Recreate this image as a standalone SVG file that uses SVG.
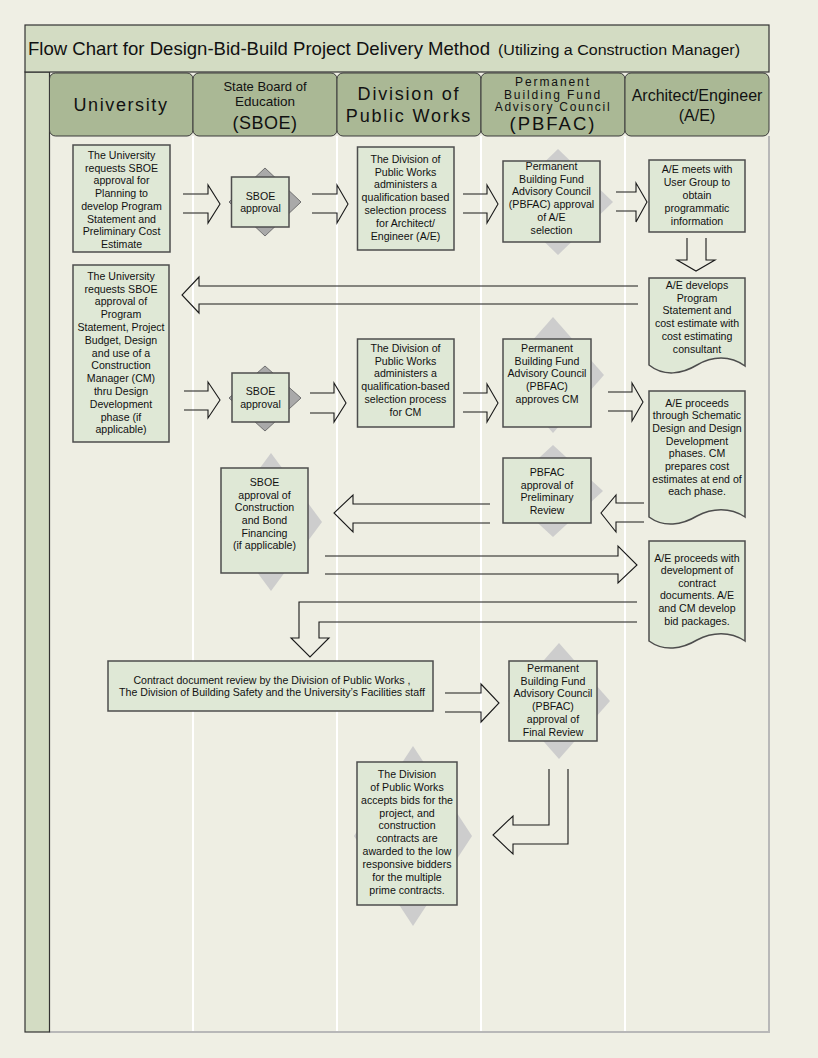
<svg xmlns="http://www.w3.org/2000/svg" width="818" height="1058" viewBox="0 0 818 1058">
<style>
.t{font-family:"Liberation Sans",Arial,sans-serif;font-size:10.6px;fill:#111;text-anchor:middle}
.h{font-family:"Liberation Sans",Arial,sans-serif;fill:#111;text-anchor:middle}
.box{fill:#dfe8d6;stroke:#4d4d4d;stroke-width:1.5}
.dl{fill:#cdcdcd}
.dd{fill:#a9a9a9;stroke:#707070;stroke-width:1}
.hd{fill:#aab895;stroke:#3a3a3a;stroke-width:1}
.ar{fill:none;stroke:#1a1a1a;stroke-width:1.1;stroke-linejoin:miter}
.sep{stroke:#ffffff;stroke-width:2}
</style>
<rect x="0" y="0" width="818" height="1058" fill="#efefe4"/>
<g id="frame">
<rect x="49.5" y="136" width="719.5" height="896" fill="#eeeee3"/>
<line class="sep" x1="193" y1="136" x2="193" y2="1032"/>
<line class="sep" x1="337" y1="136" x2="337" y2="1032"/>
<line class="sep" x1="481" y1="136" x2="481" y2="1032"/>
<line class="sep" x1="625" y1="136" x2="625" y2="1032"/>
<line x1="769" y1="136" x2="769" y2="1033" stroke="#b8b8b8" stroke-width="2"/>
<line x1="49.5" y1="1032" x2="769" y2="1032" stroke="#b8b8b8" stroke-width="2"/>
<rect x="25" y="72" width="24.5" height="960" fill="#d3dcc3" stroke="#333" stroke-width="1.2"/>
<rect x="25" y="25" width="744" height="47" fill="#d3dcc3" stroke="#333" stroke-width="1.2"/>
<text x="28" y="55" font-family="'Liberation Sans',Arial,sans-serif" fill="#111"><tspan font-size="18.5" textLength="462" lengthAdjust="spacingAndGlyphs">Flow Chart for Design-Bid-Build Project Delivery Method</tspan><tspan x="498" font-size="15.5" textLength="242" lengthAdjust="spacingAndGlyphs">(Utilizing a Construction Manager)</tspan></text>
</g>
<g id="lane-university"><rect class="hd" x="49.5" y="73" width="143.5" height="63" rx="6"/><text class="h" x="121" y="111" font-size="18" letter-spacing="1.6">University</text></g>
<g id="lane-sboe"><rect class="hd" x="193" y="73" width="144" height="63" rx="6"/><text class="h" x="265" y="91" font-size="13">State Board of</text><text class="h" x="265" y="106" font-size="13.5">Education</text><text class="h" x="265" y="129" font-size="18" letter-spacing="0.5">(SBOE)</text></g>
<g id="lane-dpw"><rect class="hd" x="337" y="73" width="144" height="63" rx="6"/><text class="h" x="409" y="99.5" font-size="18" letter-spacing="1.8">Division of</text><text class="h" x="409" y="122" font-size="18" letter-spacing="1.8">Public Works</text></g>
<g id="lane-pbfac"><rect class="hd" x="481" y="73" width="144" height="63" rx="6"/><text class="h" x="553" y="86" font-size="12" letter-spacing="1.9">Permanent</text><text class="h" x="553" y="98.5" font-size="12" letter-spacing="1.9">Building Fund</text><text class="h" x="553" y="111" font-size="12" letter-spacing="1.7">Advisory Council</text><text class="h" x="553" y="130" font-size="18.5" letter-spacing="2">(PBFAC)</text></g>
<g id="lane-ae"><rect class="hd" x="625" y="73" width="144" height="63" rx="6"/><text class="h" x="697" y="101" font-size="16">Architect/Engineer</text><text class="h" x="697" y="121" font-size="16">(A/E)</text></g>

<g id="connectors">
<path class="ar" d="M183,194 H208 V185 L220,204 L208,223 V213 H183"/>
<path class="ar" d="M312,194 H337 V185 L348,204 L337,223 V213 H312"/>
<path class="ar" d="M463,194 H487 V185 L498,204 L487,223 V213 H463"/>
<path class="ar" d="M616,192 H636 V183 L647,202 L636,222 V211 H616"/>
<path class="ar" d="M687,238 V260 H677 L696,271 L715,260 H706 V238"/>
<path class="ar" d="M638,286 H199 V277 L182,295 L199,313 V304 H638"/>
<path class="ar" d="M184,391 H208 V382 L220,400 L208,418 V410 H184"/>
<path class="ar" d="M310,393 H334 V383 L346,403 L334,422 V413 H310"/>
<path class="ar" d="M463,393 H487 V384 L498,403 L487,422 V412 H463"/>
<path class="ar" d="M608,392 H632 V383 L643,402 L632,421 V411 H608"/>
<path class="ar" d="M644,503 H616 V495 L601,513 L616,532 V522 H644"/>
<path class="ar" d="M490,504 H353 V495 L334,513 L353,532 V523 H490"/>
<path class="ar" d="M325,556 H618 V546 L637,565 L618,583 V574 H325"/>
<path class="ar" d="M637,602 H299 V638 H291 L310,657 L329,638 H319 V622 H637"/>
<path class="ar" d="M445,693 H481 V684 L499,703 L481,722 V712 H445"/>
<path class="ar" d="M568,769 V844 H513 V854 L493,835 L513,816 V825 H549 V769"/>
</g>

<g id="n1"><rect class="box" x="73" y="145" width="97" height="107"/>
<text class="t"><tspan x="121.5" y="159">The University</tspan><tspan x="121.5" y="171.7">requests SBOE</tspan><tspan x="121.5" y="184.4">approval for</tspan><tspan x="121.5" y="197.1">Planning to</tspan><tspan x="121.5" y="209.8">develop Program</tspan><tspan x="121.5" y="222.5">Statement and</tspan><tspan x="121.5" y="235.2">Preliminary Cost</tspan><tspan x="121.5" y="247.9">Estimate</tspan></text></g>

<g id="n2"><polygon class="dd" points="265,168 301,202 265,236 229,202"/><rect class="box" x="231.5" y="177" width="57.5" height="50"/>
<text class="t"><tspan x="260.5" y="199.5">SBOE</tspan><tspan x="260.5" y="212">approval</tspan></text></g>

<g id="n3"><rect class="box" x="357.5" y="147" width="96.5" height="103"/>
<text class="t"><tspan x="405.5" y="162.8">The Division of</tspan><tspan x="405.5" y="175.6">Public Works</tspan><tspan x="405.5" y="188.4">administers a</tspan><tspan x="405.5" y="201.2">qualification based</tspan><tspan x="405.5" y="214">selection process</tspan><tspan x="405.5" y="226.8">for Architect/</tspan><tspan x="405.5" y="239.6">Engineer (A/E)</tspan></text></g>

<g id="n4"><polygon class="dl" points="558,149 613,202 558,255 503,202"/><rect class="box" x="503" y="161" width="97" height="81"/>
<text class="t"><tspan x="551.5" y="169.8">Permanent</tspan><tspan x="551.5" y="182.6">Building Fund</tspan><tspan x="551.5" y="195.4">Advisory Council</tspan><tspan x="551.5" y="208.2">(PBFAC) approval</tspan><tspan x="551.5" y="221">of A/E</tspan><tspan x="551.5" y="233.8">selection</tspan></text></g>

<g id="n5"><rect class="box" x="649" y="160" width="96" height="72"/>
<text class="t"><tspan x="697" y="172.8">A/E meets with</tspan><tspan x="697" y="185.8">User Group to</tspan><tspan x="697" y="198.8">obtain</tspan><tspan x="697" y="211.8">programmatic</tspan><tspan x="697" y="224.8">information</tspan></text></g>

<g id="n6"><path class="box" d="M649,278 H745 V366 C730,355 712,356 697,365 C682,374 664,377 649,365 Z"/>
<text class="t"><tspan x="697" y="288.8">A/E develops</tspan><tspan x="697" y="301.6">Program</tspan><tspan x="697" y="314.4">Statement and</tspan><tspan x="697" y="327.2">cost estimate with</tspan><tspan x="697" y="340">cost estimating</tspan><tspan x="697" y="352.8">consultant</tspan></text></g>

<g id="n7"><rect class="box" x="73" y="265" width="96" height="177"/>
<text class="t"><tspan x="121" y="279.8">The University</tspan><tspan x="121" y="292.6">requests SBOE</tspan><tspan x="121" y="305.4">approval of</tspan><tspan x="121" y="318.2">Program</tspan><tspan x="121" y="331">Statement, Project</tspan><tspan x="121" y="343.8">Budget,  Design</tspan><tspan x="121" y="356.6">and use of a</tspan><tspan x="121" y="369.4">Construction</tspan><tspan x="121" y="382.2">Manager (CM)</tspan><tspan x="121" y="395">thru Design</tspan><tspan x="121" y="407.8">Development</tspan><tspan x="121" y="420.6">phase (if</tspan><tspan x="121" y="433.4">applicable)</tspan></text></g>

<g id="n8"><polygon class="dd" points="265,366 301,398 265,431 229,398"/><rect class="box" x="232" y="373" width="57" height="49"/>
<text class="t"><tspan x="260.5" y="395">SBOE</tspan><tspan x="260.5" y="407.5">approval</tspan></text></g>

<g id="n9"><rect class="box" x="357.5" y="339" width="96.5" height="88"/>
<text class="t"><tspan x="405.5" y="351.8">The Division of</tspan><tspan x="405.5" y="364.6">Public Works</tspan><tspan x="405.5" y="377.4">administers a</tspan><tspan x="405.5" y="390.2">qualification-based</tspan><tspan x="405.5" y="403">selection process</tspan><tspan x="405.5" y="415.8">for CM</tspan></text></g>

<g id="n10"><polygon class="dl" points="553,317 604,375 553,433 502,375"/><rect class="box" x="503" y="339" width="88" height="88"/>
<text class="t"><tspan x="547" y="351.8">Permanent</tspan><tspan x="547" y="364.6">Building Fund</tspan><tspan x="547" y="377.4">Advisory Council</tspan><tspan x="547" y="390.2">(PBFAC)</tspan><tspan x="547" y="403">approves CM</tspan></text></g>

<g id="n11"><path class="box" d="M649,391 H745 V517 C730,507 712,508 697,516 C682,525 664,528 649,517 Z"/>
<text class="t"><tspan x="697" y="406.5">A/E proceeds</tspan><tspan x="697" y="419.2">through Schematic</tspan><tspan x="697" y="431.9">Design and Design</tspan><tspan x="697" y="444.6">Development</tspan><tspan x="697" y="457.3">phases.  CM</tspan><tspan x="697" y="470">prepares cost</tspan><tspan x="697" y="482.7">estimates at end of</tspan><tspan x="697" y="495.4">each phase.</tspan></text></g>

<g id="n12"><polygon class="dl" points="553,445 603,491 553,537 503,491"/><rect class="box" x="503" y="458" width="88" height="65"/>
<text class="t"><tspan x="547" y="475.8">PBFAC</tspan><tspan x="547" y="488.5">approval of</tspan><tspan x="547" y="501.2">Preliminary</tspan><tspan x="547" y="513.9">Review</tspan></text></g>

<g id="n13"><polygon class="dl" points="271,453 322,522 271,591 220,522"/><rect class="box" x="221" y="468" width="87" height="105"/>
<text class="t"><tspan x="264.5" y="485.8">SBOE</tspan><tspan x="264.5" y="498.5">approval of</tspan><tspan x="264.5" y="511.2">Construction</tspan><tspan x="264.5" y="523.9">and Bond</tspan><tspan x="264.5" y="536.6">Financing</tspan><tspan x="264.5" y="549.3">(if applicable)</tspan></text></g>

<g id="n14"><path class="box" d="M649,541 H745 V641 C730,631 712,632 697,640 C682,649 664,652 649,641 Z"/>
<text class="t"><tspan x="697" y="561.5">A/E proceeds with</tspan><tspan x="697" y="574.1">development of</tspan><tspan x="697" y="586.7">contract</tspan><tspan x="697" y="599.3">documents. A/E</tspan><tspan x="697" y="611.9">and CM develop</tspan><tspan x="697" y="624.5">bid packages.</tspan></text></g>

<g id="n15"><rect class="box" x="108" y="661" width="325" height="50"/>
<text class="t"><tspan x="272" y="683.8">Contract document review by the Division of Public Works ,</tspan><tspan x="272" y="696.1">The Division of Building Safety and the University’s Facilities staff</tspan></text></g>

<g id="n16"><polygon class="dl" points="559,643 610,701 559,759 508,701"/><rect class="box" x="509" y="661" width="88" height="80"/>
<text class="t"><tspan x="553" y="671.8">Permanent</tspan><tspan x="553" y="684.6">Building Fund</tspan><tspan x="553" y="697.4">Advisory Council</tspan><tspan x="553" y="710.2">(PBFAC)</tspan><tspan x="553" y="723">approval of</tspan><tspan x="553" y="735.8">Final Review</tspan></text></g>

<g id="n17"><polygon class="dl" points="413,746 472,836 413,926 354,836"/><rect class="box" x="357" y="762" width="100" height="143"/>
<text class="t"><tspan x="407" y="778">The Division</tspan><tspan x="407" y="790.85">of Public Works</tspan><tspan x="407" y="803.7">accepts bids for the</tspan><tspan x="407" y="816.55">project, and</tspan><tspan x="407" y="829.4">construction</tspan><tspan x="407" y="842.25">contracts are</tspan><tspan x="407" y="855.1">awarded to the low</tspan><tspan x="407" y="867.95">responsive bidders</tspan><tspan x="407" y="880.8">for the multiple</tspan><tspan x="407" y="893.65">prime contracts.</tspan></text></g>
</svg>
